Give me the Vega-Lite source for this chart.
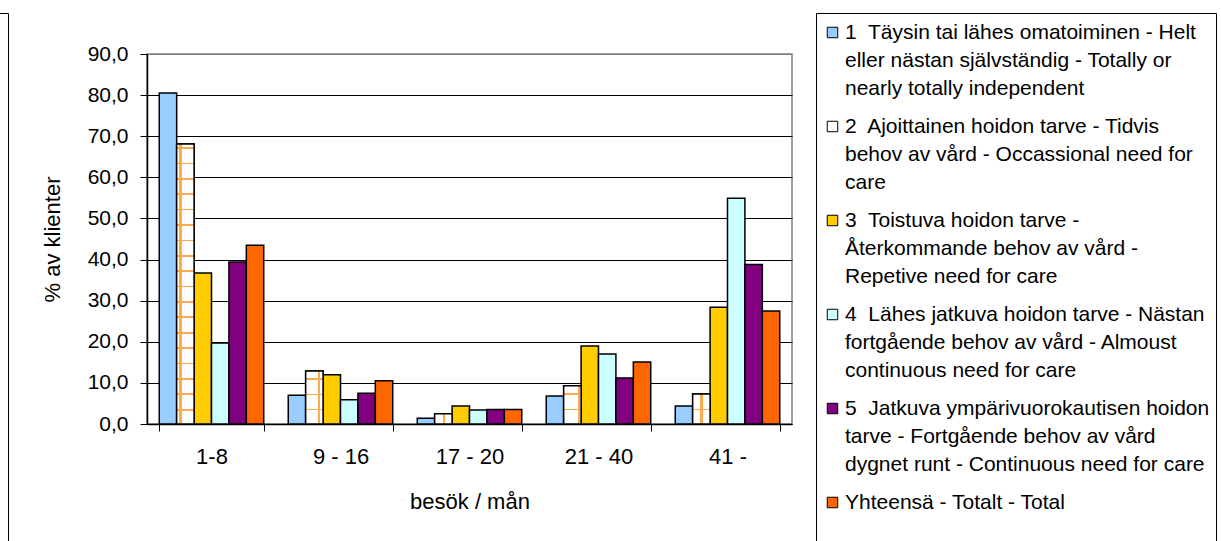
{
  "$schema": "https://vega.github.io/schema/vega-lite/v6.json",
  "width": 645,
  "height": 370,
  "autosize": "none",
  "padding": {"left": 147, "top": 54, "right": 429, "bottom": 117},
  "background": "white",
  "config": {
    "font": "Liberation Sans",
    "view": {"stroke": "#808080", "strokeWidth": 1.5},
    "style": {"guide-label": {"lineHeight": 28}}
  },
  "data": {
    "values": [
      {"group": "1-8", "serie": "1", "value": 80.5},
      {"group": "1-8", "serie": "2", "value": 68.1},
      {"group": "1-8", "serie": "3", "value": 36.7},
      {"group": "1-8", "serie": "4", "value": 19.7},
      {"group": "1-8", "serie": "5", "value": 39.4},
      {"group": "1-8", "serie": "T", "value": 43.5},
      {"group": "9 - 16", "serie": "1", "value": 7.0},
      {"group": "9 - 16", "serie": "2", "value": 12.9},
      {"group": "9 - 16", "serie": "3", "value": 12.0},
      {"group": "9 - 16", "serie": "4", "value": 5.9},
      {"group": "9 - 16", "serie": "5", "value": 7.5},
      {"group": "9 - 16", "serie": "T", "value": 10.5},
      {"group": "17 - 20", "serie": "1", "value": 1.4},
      {"group": "17 - 20", "serie": "2", "value": 2.5},
      {"group": "17 - 20", "serie": "3", "value": 4.4},
      {"group": "17 - 20", "serie": "4", "value": 3.4},
      {"group": "17 - 20", "serie": "5", "value": 3.5},
      {"group": "17 - 20", "serie": "T", "value": 3.5},
      {"group": "21 - 40", "serie": "1", "value": 6.8},
      {"group": "21 - 40", "serie": "2", "value": 9.3},
      {"group": "21 - 40", "serie": "3", "value": 19.0},
      {"group": "21 - 40", "serie": "4", "value": 17.0},
      {"group": "21 - 40", "serie": "5", "value": 11.2},
      {"group": "21 - 40", "serie": "T", "value": 15.1},
      {"group": "41 -", "serie": "1", "value": 4.4},
      {"group": "41 -", "serie": "2", "value": 7.3},
      {"group": "41 -", "serie": "3", "value": 28.4},
      {"group": "41 -", "serie": "4", "value": 54.9},
      {"group": "41 -", "serie": "5", "value": 38.8},
      {"group": "41 -", "serie": "T", "value": 27.5}
    ]
  },
  "encoding": {
    "x": {
      "field": "group",
      "type": "nominal",
      "sort": ["1-8", "9 - 16", "17 - 20", "21 - 40", "41 -"],
      "scale": {"paddingInner": 0.19, "paddingOuter": 0.095},
      "axis": {
        "title": "besök / mån",
        "labelAngle": 0,
        "labelFontSize": 22,
        "labelColor": "black",
        "labelPadding": 15,
        "tickBand": "extent",
        "tickSize": 7,
        "tickColor": "black",
        "domainColor": "black",
        "domainWidth": 1.5,
        "titleFontSize": 22,
        "titleFontWeight": "normal",
        "titleColor": "black",
        "titlePadding": 24
      }
    },
    "xOffset": {
      "field": "serie",
      "type": "nominal",
      "scale": {"domain": ["1", "2", "3", "4", "5", "T"], "paddingInner": 0}
    },
    "y": {
      "field": "value",
      "type": "quantitative",
      "scale": {"domain": [0, 90], "nice": false},
      "axis": {
        "title": "% av klienter",
        "values": [0, 10, 20, 30, 40, 50, 60, 70, 80, 90],
        "labelExpr": "replace(format(datum.value, '.1f'), '.', ',')",
        "labelFontSize": 21,
        "labelColor": "black",
        "labelPadding": 12,
        "tickSize": 7,
        "tickColor": "black",
        "domainColor": "black",
        "domainWidth": 1.5,
        "gridColor": {"condition": {"test": "datum.value === 90", "value": "#808080"}, "value": "black"},
        "gridWidth": 1,
        "titleFontSize": 22,
        "titleFontWeight": "normal",
        "titleColor": "black",
        "titleX": -95,
        "titleY": 185,
        "titleAlign": "center",
        "titleBaseline": "middle"
      }
    }
  },
  "layer": [
    {
      "mark": {"type": "bar", "stroke": "black", "strokeWidth": 1.5},
      "encoding": {
        "fill": {
          "field": "serie",
          "type": "nominal",
          "scale": {
            "domain": ["1", "2", "3", "4", "5", "T"],
            "range": ["#99CCFF", "#FFFFFF", "#FFCC00", "#CCFFFF", "#800080", "#FF6600"]
          },
          "legend": {
            "title": " ",
            "titleFontSize": 1,
            "titlePadding": 2,
            "orient": "none",
            "legendX": 669,
            "legendY": -41,
            "padding": 6,
            "strokeColor": "black",
            "symbolType": "square",
            "symbolSize": 110,
            "symbolStrokeColor": "black",
            "symbolStrokeWidth": 1,
            "labelFontSize": 21,
            "labelColor": "black",
            "labelLimit": 460,
            "labelOffset": 2,
            "labelBaseline": "middle",
            "rowPadding": 16,
            "labelExpr": "datum.label == '1' ? ['1\u00a0 Täysin tai lähes omatoiminen - Helt', 'eller nästan självständig - Totally or', 'nearly totally independent'] : datum.label == '2' ? ['2\u00a0 Ajoittainen hoidon tarve - Tidvis', 'behov av vård - Occassional need for', 'care'] : datum.label == '3' ? ['3\u00a0 Toistuva hoidon tarve -', 'Återkommande behov av vård -', 'Repetive need for care'] : datum.label == '4' ? ['4\u00a0 Lähes jatkuva hoidon tarve - Nästan', 'fortgående behov av vård - Almoust', 'continuous need for care'] : datum.label == '5' ? ['5\u00a0 Jatkuva ympärivuorokautisen hoidon', 'tarve - Fortgående behov av vård', 'dygnet runt - Continuous need for care'] : ['Yhteensä - Totalt - Total', ' ', pad('', 75, '\u00a0')]"
          }
        }
      }
    },
    {
      "transform": [{"filter": "datum.serie == '2'"}],
      "mark": {"type": "bar"},
      "encoding": {
        "strokeDash": {
          "field": "group",
          "type": "nominal",
          "legend": {
            "title": null,
            "orient": "none",
            "legendX": -160,
            "legendY": -41,
            "padding": 0,
            "strokeColor": "black",
            "symbolOpacity": 0,
            "symbolStrokeColor": "transparent",
            "labelFontSize": 21,
            "labelLimit": 1500,
            "labelOffset": 0,
            "labelBaseline": "top",
            "rowPadding": 0,
            "labelExpr": "[pad('', 215, '\u00a0'), ' ', ' ', ' ', ' ']"
          }
        },
        "fill": {
          "condition": [
            {"test": "datum.group == '1-8'", "value": {"gradient": "linear", "x1": 0, "x2": 1, "y1": 0, "y2": 0, "stops": [{"offset": 0, "color": "white"}, {"offset": 0.14, "color": "white"}, {"offset": 0.14, "color": "#FFA94D"}, {"offset": 0.28, "color": "#FFA94D"}, {"offset": 0.28, "color": "white"}, {"offset": 1, "color": "white"}]}},
            {"test": "datum.group == '9 - 16'", "value": {"gradient": "linear", "x1": 0, "x2": 1, "y1": 0, "y2": 0, "stops": [{"offset": 0, "color": "white"}, {"offset": 0.70, "color": "white"}, {"offset": 0.70, "color": "#FFA94D"}, {"offset": 0.84, "color": "#FFA94D"}, {"offset": 0.84, "color": "white"}, {"offset": 1, "color": "white"}]}},
            {"test": "datum.group == '17 - 20'", "value": {"gradient": "linear", "x1": 0, "x2": 1, "y1": 0, "y2": 0, "stops": [{"offset": 0, "color": "white"}, {"offset": 0.45, "color": "white"}, {"offset": 0.45, "color": "#FFA94D"}, {"offset": 0.59, "color": "#FFA94D"}, {"offset": 0.59, "color": "white"}, {"offset": 1, "color": "white"}]}},
            {"test": "datum.group == '21 - 40'", "value": {"gradient": "linear", "x1": 0, "x2": 1, "y1": 0, "y2": 0, "stops": [{"offset": 0, "color": "white"}, {"offset": 0.82, "color": "white"}, {"offset": 0.82, "color": "#FFA94D"}, {"offset": 0.95, "color": "#FFA94D"}, {"offset": 0.95, "color": "white"}, {"offset": 1, "color": "white"}]}},
            {"test": "datum.group == '41 -'", "value": {"gradient": "linear", "x1": 0, "x2": 1, "y1": 0, "y2": 0, "stops": [{"offset": 0, "color": "white"}, {"offset": 0.43, "color": "white"}, {"offset": 0.43, "color": "#FFA94D"}, {"offset": 0.57, "color": "#FFA94D"}, {"offset": 0.57, "color": "white"}, {"offset": 1, "color": "white"}]}}
          ],
          "value": "white"
        }
      }
    },
    {
      "transform": [{"filter": "datum.serie == '2'"}],
      "mark": {"type": "bar", "stroke": "black", "strokeWidth": 1.5},
      "encoding": {
        "fill": {
          "condition": [
            {"test": "datum.group == '1-8'", "value": {"gradient": "linear", "x1": 0, "x2": 0, "y1": 0, "y2": 1, "stops": [
              {"offset": 0.011, "color": "rgba(255,169,77,0)"}, {"offset": 0.011, "color": "#FFA94D"}, {"offset": 0.017, "color": "#FFA94D"}, {"offset": 0.017, "color": "rgba(255,169,77,0)"},
              {"offset": 0.066, "color": "rgba(255,169,77,0)"}, {"offset": 0.066, "color": "#FFA94D"}, {"offset": 0.072, "color": "#FFA94D"}, {"offset": 0.072, "color": "rgba(255,169,77,0)"},
              {"offset": 0.121, "color": "rgba(255,169,77,0)"}, {"offset": 0.121, "color": "#FFA94D"}, {"offset": 0.127, "color": "#FFA94D"}, {"offset": 0.127, "color": "rgba(255,169,77,0)"},
              {"offset": 0.176, "color": "rgba(255,169,77,0)"}, {"offset": 0.176, "color": "#FFA94D"}, {"offset": 0.182, "color": "#FFA94D"}, {"offset": 0.182, "color": "rgba(255,169,77,0)"},
              {"offset": 0.231, "color": "rgba(255,169,77,0)"}, {"offset": 0.231, "color": "#FFA94D"}, {"offset": 0.237, "color": "#FFA94D"}, {"offset": 0.237, "color": "rgba(255,169,77,0)"},
              {"offset": 0.286, "color": "rgba(255,169,77,0)"}, {"offset": 0.286, "color": "#FFA94D"}, {"offset": 0.292, "color": "#FFA94D"}, {"offset": 0.292, "color": "rgba(255,169,77,0)"},
              {"offset": 0.341, "color": "rgba(255,169,77,0)"}, {"offset": 0.341, "color": "#FFA94D"}, {"offset": 0.347, "color": "#FFA94D"}, {"offset": 0.347, "color": "rgba(255,169,77,0)"},
              {"offset": 0.396, "color": "rgba(255,169,77,0)"}, {"offset": 0.396, "color": "#FFA94D"}, {"offset": 0.402, "color": "#FFA94D"}, {"offset": 0.402, "color": "rgba(255,169,77,0)"},
              {"offset": 0.451, "color": "rgba(255,169,77,0)"}, {"offset": 0.451, "color": "#FFA94D"}, {"offset": 0.457, "color": "#FFA94D"}, {"offset": 0.457, "color": "rgba(255,169,77,0)"},
              {"offset": 0.506, "color": "rgba(255,169,77,0)"}, {"offset": 0.506, "color": "#FFA94D"}, {"offset": 0.512, "color": "#FFA94D"}, {"offset": 0.512, "color": "rgba(255,169,77,0)"},
              {"offset": 0.561, "color": "rgba(255,169,77,0)"}, {"offset": 0.561, "color": "#FFA94D"}, {"offset": 0.567, "color": "#FFA94D"}, {"offset": 0.567, "color": "rgba(255,169,77,0)"},
              {"offset": 0.616, "color": "rgba(255,169,77,0)"}, {"offset": 0.616, "color": "#FFA94D"}, {"offset": 0.622, "color": "#FFA94D"}, {"offset": 0.622, "color": "rgba(255,169,77,0)"},
              {"offset": 0.671, "color": "rgba(255,169,77,0)"}, {"offset": 0.671, "color": "#FFA94D"}, {"offset": 0.677, "color": "#FFA94D"}, {"offset": 0.677, "color": "rgba(255,169,77,0)"},
              {"offset": 0.726, "color": "rgba(255,169,77,0)"}, {"offset": 0.726, "color": "#FFA94D"}, {"offset": 0.732, "color": "#FFA94D"}, {"offset": 0.732, "color": "rgba(255,169,77,0)"},
              {"offset": 0.781, "color": "rgba(255,169,77,0)"}, {"offset": 0.781, "color": "#FFA94D"}, {"offset": 0.787, "color": "#FFA94D"}, {"offset": 0.787, "color": "rgba(255,169,77,0)"},
              {"offset": 0.836, "color": "rgba(255,169,77,0)"}, {"offset": 0.836, "color": "#FFA94D"}, {"offset": 0.842, "color": "#FFA94D"}, {"offset": 0.842, "color": "rgba(255,169,77,0)"},
              {"offset": 0.891, "color": "rgba(255,169,77,0)"}, {"offset": 0.891, "color": "#FFA94D"}, {"offset": 0.897, "color": "#FFA94D"}, {"offset": 0.897, "color": "rgba(255,169,77,0)"},
              {"offset": 0.946, "color": "rgba(255,169,77,0)"}, {"offset": 0.946, "color": "#FFA94D"}, {"offset": 0.952, "color": "#FFA94D"}, {"offset": 0.952, "color": "rgba(255,169,77,0)"}
            ]}},
            {"test": "datum.group == '9 - 16'", "value": {"gradient": "linear", "x1": 0, "x2": 0, "y1": 0, "y2": 1, "stops": [
              {"offset": 0.134, "color": "rgba(255,169,77,0)"}, {"offset": 0.134, "color": "#FFA94D"}, {"offset": 0.164, "color": "#FFA94D"}, {"offset": 0.164, "color": "rgba(255,169,77,0)"},
              {"offset": 0.425, "color": "rgba(255,169,77,0)"}, {"offset": 0.425, "color": "#FFA94D"}, {"offset": 0.455, "color": "#FFA94D"}, {"offset": 0.455, "color": "rgba(255,169,77,0)"},
              {"offset": 0.715, "color": "rgba(255,169,77,0)"}, {"offset": 0.715, "color": "#FFA94D"}, {"offset": 0.745, "color": "#FFA94D"}, {"offset": 0.745, "color": "rgba(255,169,77,0)"}
            ]}},
            {"test": "datum.group == '21 - 40'", "value": {"gradient": "linear", "x1": 0, "x2": 0, "y1": 0, "y2": 1, "stops": [
              {"offset": 0.20, "color": "rgba(255,169,77,0)"}, {"offset": 0.20, "color": "#FFA94D"}, {"offset": 0.24, "color": "#FFA94D"}, {"offset": 0.24, "color": "rgba(255,169,77,0)"},
              {"offset": 0.60, "color": "rgba(255,169,77,0)"}, {"offset": 0.60, "color": "#FFA94D"}, {"offset": 0.64, "color": "#FFA94D"}, {"offset": 0.64, "color": "rgba(255,169,77,0)"}
            ]}},
            {"test": "datum.group == '41 -'", "value": {"gradient": "linear", "x1": 0, "x2": 0, "y1": 0, "y2": 1, "stops": [
              {"offset": 0.50, "color": "rgba(255,169,77,0)"}, {"offset": 0.50, "color": "#FFA94D"}, {"offset": 0.55, "color": "#FFA94D"}, {"offset": 0.55, "color": "rgba(255,169,77,0)"}
            ]}}
          ],
          "value": "rgba(255,169,77,0)"
        }
      }
    }
  ]
}
